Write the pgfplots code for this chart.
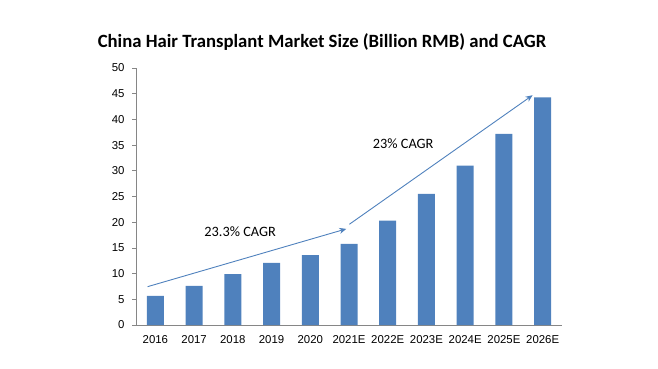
\documentclass[border=0pt]{standalone}
\usepackage{fontspec}
\setmainfont{Carlito}
\newfontfamily\tickfont{Liberation Sans}
\usepackage{pgfplots}
\pgfplotsset{compat=1.18}
\usetikzlibrary{arrows.meta}
\definecolor{barblue}{HTML}{4F81BD}
\definecolor{axgray}{HTML}{868686}
\begin{document}
\begin{tikzpicture}[x=1pt,y=1pt]
\useasboundingbox (0,0) rectangle (658,369);
\node[font=\fontsize{18.7}{22}\selectfont\bfseries] at (322,327) {China Hair Transplant Market Size (Billion RMB) and CAGR};
\begin{axis}[
  at={(136pt,44pt)}, anchor=south west,
  scale only axis, width=426pt, height=257pt,
  xmin=-0.5, xmax=10.5, ymin=0, ymax=50,
  axis lines*=left,
  axis line style={axgray, line width=0.8pt},
  tick align=outside,
  /pgf/number format/assume math mode=true,
  ticklabel style={font=\tickfont\fontsize{11.4}{13}\selectfont, text=black},
  ytick={0,5,...,50},
  major tick length=4pt,
  ytick style={axgray, line width=0.8pt},
  yticklabel style={xshift=-4pt},
  xtick={0,...,10},
  xticklabels={2016,2017,2018,2019,2020,2021E,2022E,2023E,2024E,2025E,2026E},
  xtick style={draw=none},
  minor xtick={-0.5,0.5,...,10.5},
  minor x tick style={axgray, line width=0.8pt},
  minor tick length=5pt,
  xticklabel style={yshift=-3.5pt},
  clip=false,
]
\addplot[ybar, bar width=17pt, fill=barblue, draw=none] coordinates {
 (0,5.65) (1,7.6) (2,9.9) (3,12.1) (4,13.6) (5,15.8) (6,20.3) (7,25.5) (8,31.0) (9,37.2) (10,44.3)};
\addplot[barblue, line width=0.9pt, -{Stealth[length=7pt,width=6pt]}] coordinates {(-0.2,7.46) (4.93,18.7)};
\addplot[barblue, line width=0.9pt, -{Stealth[length=7pt,width=6pt]}] coordinates {(5.01,19.6) (9.74,44.7)};
\node[font=\fontsize{14.3}{16}\selectfont] at (axis cs:2.19,18.1) {23.3\% CAGR};
\node[font=\fontsize{14.3}{16}\selectfont] at (axis cs:6.4,35.25) {23\% CAGR};
\end{axis}
\end{tikzpicture}
\end{document}
